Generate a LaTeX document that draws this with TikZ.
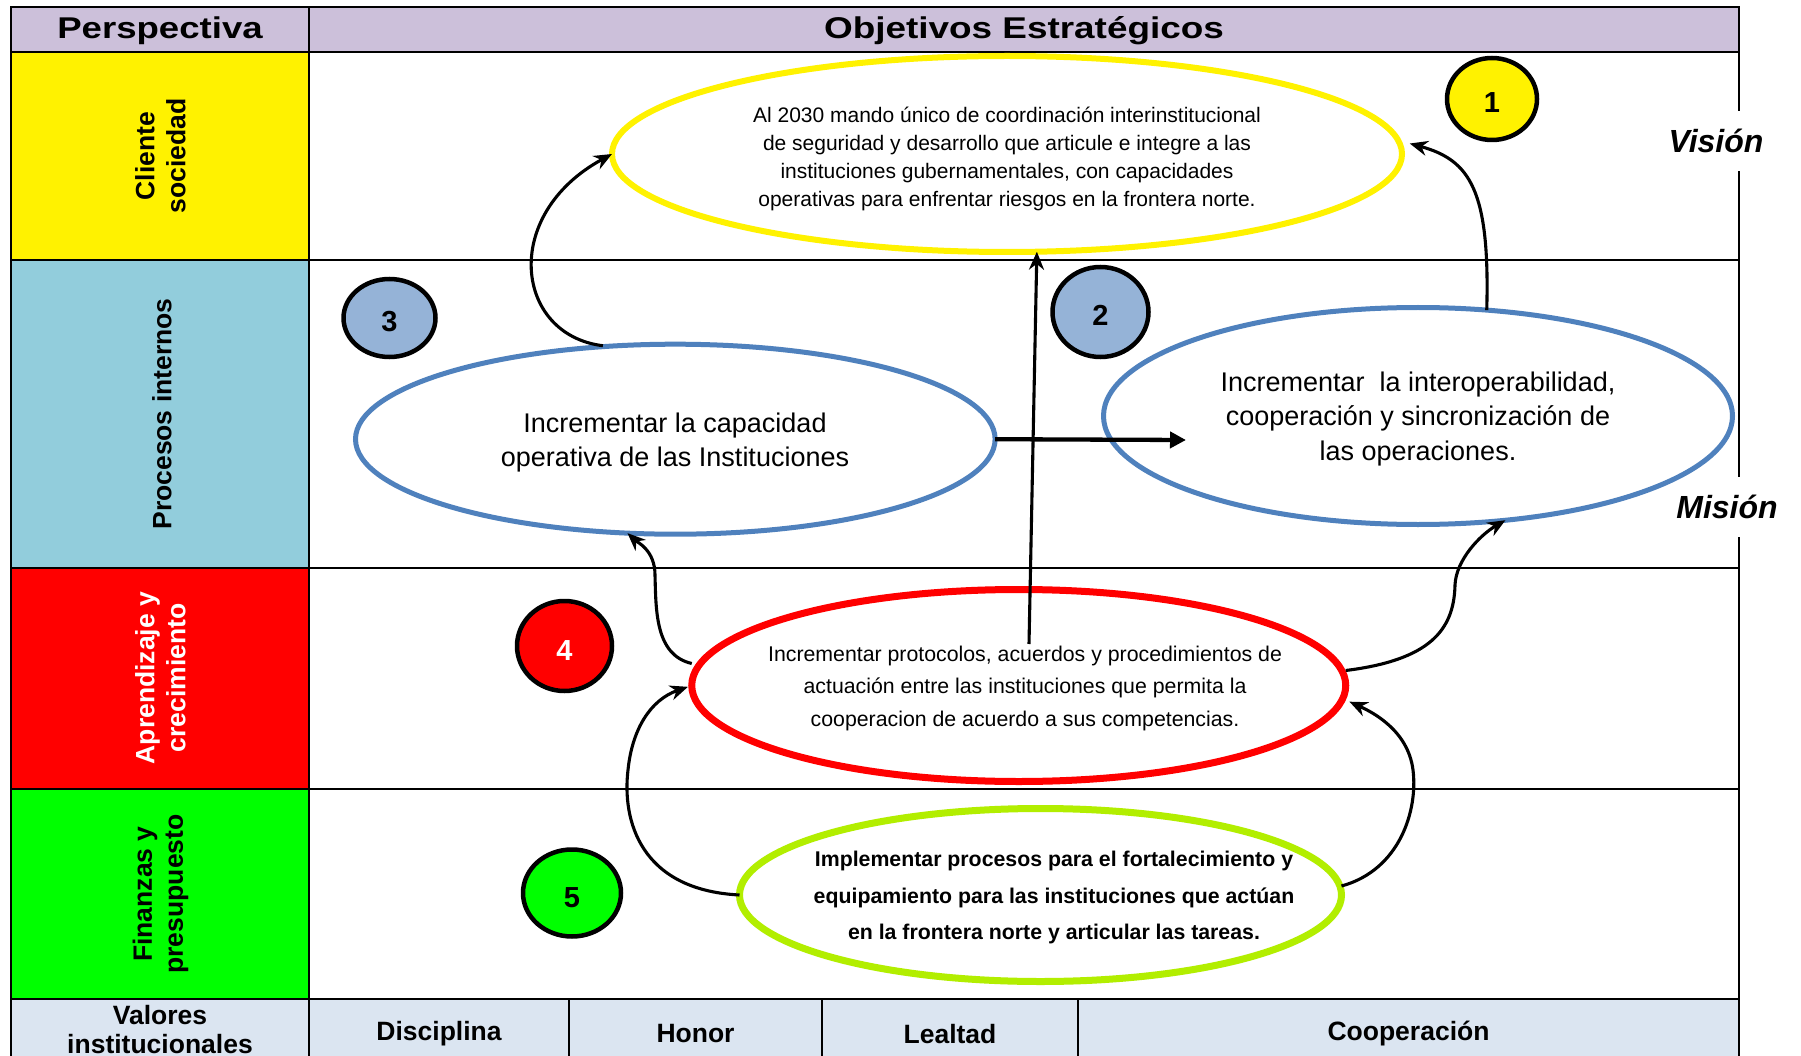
\documentclass[tikz,border=0pt]{standalone}
\usepackage{fontspec}
\setmainfont{Liberation Sans}
\usetikzlibrary{shapes.geometric,arrows.meta}
\definecolor{hdrc}{RGB}{204,192,218}
\definecolor{procc}{RGB}{146,205,220}
\definecolor{valc}{RGB}{219,229,241}
\definecolor{bluel}{RGB}{79,129,189}
\definecolor{circb}{RGB}{149,179,215}
\definecolor{limeg}{RGB}{178,238,0}
\newcommand{\fsz}[2]{\fontsize{#1}{#2}\selectfont}
\begin{document}
\begin{tikzpicture}[x=1pt,y=-1pt,
  gridline/.style={line width=2.6pt},
  obj/.style={ellipse, draw, fill=white, inner sep=0pt, outer sep=0pt},
  num/.style={ellipse, draw=black, line width=4.5pt, inner sep=0pt, outer sep=0pt, text height=28pt, text depth=0pt, font=\fsz{29}{29}\bfseries},
  conn/.style={line width=3.1pt, -{Stealth[length=18pt,width=15pt]}},
  rowlab/.style={rotate=90, inner sep=0pt, align=center, font=\fsz{26.5}{31}\bfseries},
  hdrtxt/.style={text height=22pt, text depth=7pt, font=\fsz{30}{30}\bfseries},
  valtxt/.style={font=\fsz{26.5}{29}\bfseries, align=center},
  sidetxt/.style={fill=white, inner sep=0pt, minimum height=60pt, font=\fsz{32}{32}\bfseries\itshape}]
\useasboundingbox (0,0) rectangle (1801,1056);
\fill[white] (0,0) rectangle (1801,1056);
% table fills
\fill[hdrc] (11,7) rectangle (1739,52);
\fill[yellow] (11,52) rectangle (309,260);
\fill[procc] (11,260) rectangle (309,568);
\fill[red] (11,568) rectangle (309,789);
\fill[green] (11,789) rectangle (309,999);
\fill[valc] (11,999) rectangle (1739,1060);
% table lines
\draw[gridline] (11,1062) -- (11,7) -- (1739,7) -- (1739,1062);
\foreach \yy in {52,260,568,789,999} \draw[gridline] (11,\yy) -- (1739,\yy);
\draw[gridline] (309,7) -- (309,1062);
\foreach \xx in {569,822,1078} \draw[gridline] (\xx,999) -- (\xx,1062);
% headers
\node[hdrtxt] (hpersp) at (160,31) {\scalebox{1.22}[1]{Perspectiva}};
\node[hdrtxt] (hobj) at (1024,31) {\scalebox{1.23}[1]{Objetivos Estratégicos}};
% row labels
\node[rowlab] (lcli) at (160.5,156) {Cliente\\sociedad};
\node[rowlab] (lproc) at (162,414) {Procesos internos};
\node[rowlab, text=white] (lapr) at (160.5,678) {Aprendizaje y\\crecimiento};
\node[rowlab] (lfin) at (160.5,894) {Finanzas y\\presupuesto};
% values row
\node[valtxt] (lval) at (160,1030) {Valores\\institucionales};
\node[valtxt] (vdis) at (439,1034) {Disciplina};
\node[valtxt] (vhon) at (695.5,1034) {Honor};
\node[valtxt] (vlea) at (950,1034) {Lealtad};
\node[valtxt] (vcoo) at (1408.5,1034) {Cooperación};
% side labels
\node[sidetxt] (vision) at (1716,141) {Visión};
\node[sidetxt] (mision) at (1727,507) {Misión};
% objective ellipses
\node[obj, draw=yellow, line width=6pt, minimum width=790pt, minimum height=196pt] (yel) at (1007,154) {};
\node[obj, draw=bluel, line width=5pt, minimum width=639.6pt, minimum height=190pt] (blueL) at (675.3,439.2) {};
\node[obj, draw=bluel, line width=5pt, minimum width=629pt, minimum height=217pt] (blueR) at (1418,416) {};
\node[obj, draw=red, line width=7pt, minimum width=654pt, minimum height=192pt] (red) at (1018.75,685.5) {};
\node[obj, draw=limeg, line width=7pt, minimum width=602pt, minimum height=173pt] (grn) at (1040.5,895) {};
% texts
\node[font=\fsz{21}{28}, align=center] (yeltxt) at (1007,158.5) {Al 2030 mando único de coordinación interinstitucional\\de seguridad y desarrollo que articule e integre a las\\instituciones gubernamentales, con capacidades\\operativas para enfrentar riesgos en la frontera norte.};
\node[font=\fsz{27}{34}, align=center] (bluLtxt) at (675,442.5) {Incrementar la capacidad\\operativa de las Instituciones};
\node[font=\fsz{27}{34.5}, align=center] (bluRtxt) at (1418,419) {Incrementar\ \ la interoperabilidad,\\cooperación y sincronización de\\las operaciones.};
\node[font=\fsz{21.3}{32.5}, align=center] (redtxt) at (1025,688) {Incrementar protocolos, acuerdos y procedimientos de\\actuación entre las instituciones que permita la\\cooperacion de acuerdo a sus competencias.};
\node[font=\fsz{21.3}{36.7}\bfseries, align=center] (grntxt) at (1054,897.5) {Implementar procesos para el fortalecimiento y\\equipamiento para las instituciones que actúan\\en la frontera norte y articular las tareas.};
% numbered circles
\node[num, fill=yellow, minimum width=90pt, minimum height=82pt] (c1) at (1492,99) {1};
\node[num, fill=circb, minimum width=96pt, minimum height=90pt] (c2) at (1100.5,312) {2};
\node[num, fill=circb, minimum width=92pt, minimum height=78pt] (c3) at (389.5,318) {3};
\node[num, fill=red, text=white, minimum width=95pt, minimum height=90pt] (c4) at (564.5,646) {4};
\node[num, fill=green, minimum width=98pt, minimum height=87pt] (c5) at (572,893) {5};
% connectors
\coordinate (redin) at (1029,644);
\coordinate (hend) at (1186,440);
\draw[conn, shorten <=5pt] (blueL.126) .. controls (515,335) and (500,215) .. (yel.west);
\draw[conn, shorten >=12pt] (blueR.57) .. controls (1490,190) and (1470,160) .. (yel.2.5);
\draw[conn] (redin) -- (yel.-73);
\draw[conn, line width=4.3pt, -{Triangle[length=16pt,width=16pt]}] (blueL.east) -- (hend);
\draw[conn] ([yshift=22pt]red.west) .. controls (655,655) and (656,610) .. (655,575) .. controls (655,550) and (637,542) .. (blueL.-117.7);
\draw[conn] ([yshift=15pt]red.east) .. controls (1430,660) and (1454,630) .. (1455,585) .. controls (1456,560) and (1480,535) .. (blueR.-50);
\draw[conn, shorten >=4pt] (grn.west) .. controls (640,890) and (622,820) .. (628,770) .. controls (632,730) and (650,700) .. (red.west);
\draw[conn, shorten >=4pt] ([yshift=9pt]grn.east) .. controls (1400,870) and (1418,810) .. (1413,770) .. controls (1408,730) and (1372,712) .. ([yshift=-14.5pt]red.east);
\end{tikzpicture}
\end{document}
